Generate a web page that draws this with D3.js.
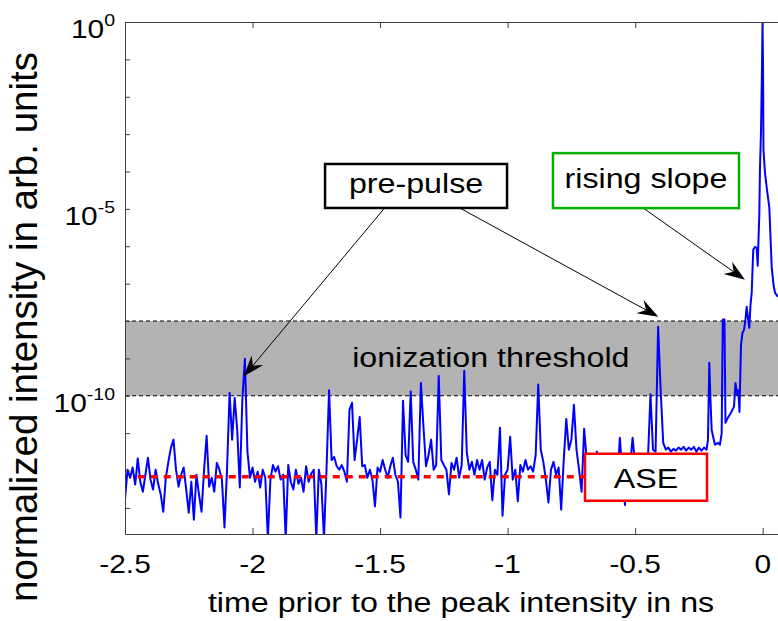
<!DOCTYPE html>
<html lang="en">
<head>
<meta charset="utf-8">
<title>pulse contrast trace</title>
<script src="https://cdn.jsdelivr.net/npm/d3@7"></script>
<style>
  body { margin: 0; background: #fff; }
  svg { display: block; font-family: "Liberation Sans", Arial, sans-serif; }
</style>
</head>
<body>
<div id="chart"></div>
<script>
// time prior to the peak, ns
var times = [
  -2.50, -2.49, -2.48, -2.47, -2.46, -2.45, -2.44, -2.43, -2.42, -2.41,
  -2.40, -2.39, -2.38, -2.37, -2.36, -2.35, -2.34, -2.33, -2.32, -2.31,
  -2.30, -2.29, -2.28, -2.27, -2.26, -2.25, -2.24, -2.23, -2.22, -2.21,
  -2.20, -2.19, -2.18, -2.17, -2.16, -2.15, -2.14, -2.13, -2.12, -2.11,
  -2.10, -2.09, -2.08, -2.07, -2.06, -2.05, -2.04, -2.03, -2.02, -2.01,
  -2.00, -1.99, -1.98, -1.97, -1.96, -1.95, -1.94, -1.93, -1.92, -1.91,
  -1.90, -1.89, -1.88, -1.87, -1.86, -1.85, -1.84, -1.83, -1.82, -1.81,
  -1.80, -1.79, -1.78, -1.77, -1.76, -1.75, -1.74, -1.73, -1.72, -1.71,
  -1.70, -1.69, -1.68, -1.67, -1.66, -1.65, -1.64, -1.63, -1.62, -1.61,
  -1.60, -1.59, -1.58, -1.57, -1.56, -1.55, -1.54, -1.53, -1.52, -1.51,
  -1.50, -1.49, -1.48, -1.47, -1.46, -1.45, -1.44, -1.43, -1.42, -1.41,
  -1.40, -1.39, -1.38, -1.37, -1.36, -1.35, -1.34, -1.33, -1.32, -1.31,
  -1.30, -1.29, -1.28, -1.27, -1.26, -1.25, -1.24, -1.23, -1.22, -1.21,
  -1.20, -1.19, -1.18, -1.17, -1.16, -1.15, -1.14, -1.13, -1.12, -1.11,
  -1.10, -1.09, -1.08, -1.07, -1.06, -1.05, -1.04, -1.03, -1.02, -1.01,
  -1.00, -0.99, -0.98, -0.97, -0.96, -0.95, -0.94, -0.93, -0.92, -0.91,
  -0.90, -0.89, -0.88, -0.87, -0.86, -0.85, -0.84, -0.83, -0.82, -0.81,
  -0.80, -0.79, -0.78, -0.77, -0.76, -0.75, -0.74, -0.73, -0.72, -0.71,
  -0.70, -0.69, -0.68, -0.67, -0.66, -0.65, -0.64, -0.63, -0.62, -0.61,
  -0.60, -0.59, -0.58, -0.57, -0.56, -0.55, -0.54, -0.53, -0.52, -0.51,
  -0.50, -0.49, -0.48, -0.47, -0.46, -0.45, -0.44, -0.43, -0.42, -0.41,
  -0.40, -0.39, -0.38, -0.37, -0.36, -0.35, -0.34, -0.33, -0.32, -0.31,
  -0.30, -0.29, -0.28, -0.27, -0.26, -0.25, -0.24, -0.23, -0.22,
  -0.2145, -0.2094, -0.2047, -0.2000, -0.1871, -0.1753, -0.1675, -0.1608, -0.1565, -0.1498,
  -0.1459, -0.1361, -0.1243, -0.1125, -0.1067, -0.1008, -0.0957, -0.0910, -0.0851, -0.0792,
  -0.0733, -0.0675, -0.0627, -0.0576, -0.0525, -0.0478, -0.0431, -0.0400, -0.0369, -0.0302,
  -0.0235, -0.0196, -0.0165, -0.0133, -0.0106, -0.0067, -0.0035, -0.0008, 0.0012, 0.0031,
  0.0090, 0.0169, 0.0259, 0.0353, 0.0424, 0.0482, 0.0600
];

// normalized intensity, arb. units
var intensity = [
  1.7e-13, 1.05e-12, 6.4e-13, 1.2e-12, 4.2e-13, 2.1e-12, 5.0e-13, 2.7e-13, 7.7e-13, 2.2e-12,
  5.7e-13, 3.1e-13, 1.05e-12, 4.4e-13, 2.3e-13, 7.9e-14, 6.4e-13, 1.7e-12, 4.1e-12, 6.7e-12,
  1.05e-12, 3.7e-13, 7.7e-13, 1.2e-12, 3.1e-13, 7.4e-14, 5.0e-13, 4.8e-14, 7.7e-13, 2.3e-13,
  7.9e-14, 1.05e-12, 8.5e-12, 3.7e-13, 6.4e-13, 2.7e-13, 1.6e-12, 1.05e-12, 5.7e-13, 3.0e-14,
  1.05e-12, 1.2e-10, 6.7e-12, 8.8e-11, 1.2e-11, 3.5e-13, 7.8e-11, 9.8e-10, 3.2e-12, 6.4e-13,
  1.2e-12, 5.0e-13, 9.3e-13, 3.5e-13, 1.05e-12, 6.4e-13, 1.5e-14, 5.7e-13, 1.4e-12, 9.3e-13,
  1.3e-12, 5.7e-13, 7.7e-13, 1.5e-14, 1.4e-12, 5.0e-13, 3.1e-13, 1.05e-12, 4.4e-13, 6.4e-13,
  2.7e-13, 1.3e-12, 5.0e-13, 8.2e-13, 1.05e-12, 1.5e-14, 1.05e-12, 4.2e-13, 1.5e-14, 1.05e-12,
  1.4e-10, 1.9e-12, 2.3e-12, 1.3e-12, 1.05e-12, 1.4e-12, 9.3e-13, 5.0e-13, 4.2e-11, 6.5e-11,
  1.9e-12, 6.7e-12, 2.7e-11, 1.3e-12, 1.4e-12, 6.4e-13, 1.05e-12, 5.7e-13, 1.1e-13, 1.2e-12,
  9.3e-13, 1.9e-12, 1.05e-12, 6.4e-13, 1.3e-12, 2.2e-12, 7.7e-13, 5.0e-13, 5.5e-14, 7.4e-11,
  2.6e-12, 1.7e-12, 1.3e-10, 1.7e-12, 1.05e-12, 5.7e-13, 2.2e-10, 1.5e-11, 1.3e-12, 2.6e-12,
  6.7e-12, 1.05e-12, 1.4e-12, 3.4e-10, 1.9e-12, 1.4e-12, 1.05e-12, 2.3e-13, 1.6e-12, 1.05e-12,
  2.2e-12, 6.4e-13, 1.4e-12, 4.7e-10, 3.0e-12, 1.05e-12, 1.7e-12, 7.7e-13, 1.9e-12, 1.05e-12,
  1.9e-12, 5.7e-13, 1.2e-12, 1.7e-12, 1.6e-13, 1.05e-12, 7.7e-13, 1.4e-11, 6.2e-14, 7.7e-13,
  1.05e-12, 8.0e-12, 5.7e-13, 1.05e-12, 1.5e-13, 1.4e-12, 9.3e-13, 1.9e-12, 1.05e-12, 1.3e-12,
  9.3e-13, 2.6e-12, 2.0e-10, 3.6e-12, 1.7e-12, 5.7e-13, 1.4e-13, 1.05e-12, 1.7e-12, 7.7e-13,
  1.2e-12, 9.0e-14, 1.9e-12, 2.4e-11, 3.6e-12, 6.7e-12, 5.7e-11, 3.6e-12, 1.05e-12, 2.7e-13,
  1.3e-11, 1.9e-12, 1.05e-12, 1.4e-12, 5.7e-13, 3.2e-12, 9.3e-13, 1.2e-12, 6.4e-13, 1.7e-12,
  7.7e-13, 1.05e-12, 1.3e-12, 5.7e-13, 7.5e-12, 7.7e-13, 1.2e-13, 1.05e-12, 1.3e-12, 7.5e-12,
  1.4e-12, 1.7e-12, 1.05e-12, 2.2e-12, 1.3e-12, 1.9e-12, 1.1e-10, 3.6e-12, 3.2e-12, 7.0e-9,
  1.4e-10, 5.5e-12, 3.6e-12, 4.1e-12, 3.2e-12, 3.8e-12, 3.4e-12, 4.1e-12, 3.6e-12, 4.3e-12,
  3.4e-12, 4.1e-12, 3.6e-12, 4.3e-12, 3.2e-12, 4.1e-12, 3.4e-12, 4.1e-12, 3.6e-12,
  6.7e-12, 7.6e-10, 7.8e-11, 1.2e-11, 4.9e-12, 5.5e-12, 4.9e-12, 1.0e-11, 1.1e-8, 1.1e-8,
  1.9e-11, 2.6e-11, 3.5e-11, 5.1e-11, 2.2e-10, 1.1e-10, 1.4e-10, 3.7e-11, 2.3e-9, 4.8e-9,
  5.8e-9, 1.1e-8, 2.4e-8, 1.2e-8, 6.6e-9, 2.7e-8, 5.7e-8, 2.3e-7, 8.0e-7, 9.6e-7,
  9.1e-7, 3.0e-7, 1.5e-6, 6.9e-6, 1.3e-4, 1.1e-3, 2.8e-2, 0.9, 9.6e-2, 3.8e-4,
  9.2e-5, 3.2e-5, 1.1e-5, 2.8e-7, 9.3e-8, 5.7e-8, 4.4e-8
];

var xDomain = [-2.5, 0.06];
var yDomain = [2e-14, 1];
var xTicks = [-2.5, -2, -1.5, -1, -0.5, 0];
var xTickLabels = ["-2.5", "-2", "-1.5", "-1", "-0.5", "0"];
var yTicks = [1e0, 1e-1, 1e-2, 1e-3, 1e-4, 1e-5, 1e-6, 1e-7, 1e-8, 1e-9, 1e-10, 1e-11, 1e-12, 1e-13];
var yLabelValues = [1e0, 1e-5, 1e-10];
var yLabelExponents = ["0", "-5", "-10"];

var threshold = [1e-10, 1e-8];      // ionization threshold band
var aseLevel = 6.8e-13;             // ASE floor
var aseSpan = [-2.45, -0.66];

var W = 778, H = 621;
var plot = {left: 125, right: 778, top: 22, bottom: 534};
var sx = 1.15;   // the reference text is drawn a bit wide

var svg = d3.select("#chart").append("svg").attr("width", W).attr("height", H);

var x = d3.scaleLinear().domain(xDomain).range([plot.left, plot.right]);
var y = d3.scaleLog().domain(yDomain).range([plot.bottom, plot.top]);

function label(parent, px, py, str, size, anchor) {
  return parent.append("text")
    .attr("transform", "translate(" + px + "," + py + ") scale(" + sx + ",1)")
    .attr("text-anchor", anchor || "middle")
    .attr("font-size", size)
    .attr("fill", "#000")
    .text(str);
}

svg.append("clipPath").attr("id", "clip").append("rect")
  .attr("x", plot.left).attr("y", plot.top)
  .attr("width", plot.right - plot.left).attr("height", plot.bottom - plot.top);

// ionization threshold band
svg.append("rect")
  .attr("x", x(xDomain[0])).attr("width", x(xDomain[1]) - x(xDomain[0]))
  .attr("y", y(threshold[1])).attr("height", y(threshold[0]) - y(threshold[1]))
  .attr("fill", "#b3b3b3");

svg.selectAll(".thr").data(threshold).enter().append("line")
  .attr("class", "thr")
  .attr("x1", x(xDomain[0])).attr("x2", x(xDomain[1]))
  .attr("y1", function(d) { return y(d); }).attr("y2", function(d) { return y(d); })
  .attr("stroke", "#000").attr("stroke-width", 1).attr("stroke-dasharray", "4,3");

label(svg, x(-1.066), y(6.0e-10), "ionization threshold", 28);

// measured trace
var data = times.map(function(t, i) { return {t: t, v: intensity[i]}; });
var line = d3.line().x(function(d) { return x(d.t); }).y(function(d) { return y(d.v); });

svg.append("path").datum(data)
  .attr("clip-path", "url(#clip)")
  .attr("d", line)
  .attr("fill", "none").attr("stroke", "#0000ff").attr("stroke-width", 2)
  .attr("stroke-linejoin", "round");

// ASE level
svg.append("line")
  .attr("x1", x(aseSpan[0])).attr("x2", x(aseSpan[1]))
  .attr("y1", y(aseLevel)).attr("y2", y(aseLevel))
  .attr("stroke", "#ff0000").attr("stroke-width", 3.3).attr("stroke-dasharray", "7,6");

// axes
var ax = svg.append("g").attr("class", "axes");
ax.append("g").attr("transform", "translate(0," + plot.bottom + ")")
  .call(d3.axisBottom(x).tickValues(xTicks).tickSize(-6).tickSizeOuter(0).tickFormat(""));
ax.append("g").attr("transform", "translate(0," + plot.top + ")")
  .call(d3.axisTop(x).tickValues(xTicks).tickSize(-6).tickSizeOuter(0).tickFormat(""));
ax.append("g").attr("transform", "translate(" + plot.left + ",0)")
  .call(d3.axisLeft(y).tickValues(yTicks).tickSize(-5).tickSizeOuter(0).tickFormat(""));
ax.selectAll("path.domain, .tick line").attr("stroke", "#404040").attr("stroke-width", 1);

xTicks.forEach(function(v, i) {
  label(svg, x(v), 573, xTickLabels[i], 26);
});

yLabelValues.forEach(function(v, i) {
  var t = label(svg, 115, y(v) + 16, "10", 26, "end").text(null);
  t.append("tspan").text("10");
  t.append("tspan").attr("dy", -12).attr("font-size", 17).text(yLabelExponents[i]);
});

label(svg, 461, 612, "time prior to the peak intensity in ns", 28);

svg.append("text")
  .attr("transform", "translate(37,327) rotate(-90)")
  .attr("text-anchor", "middle").attr("font-size", 38.5)
  .text("normalized intensity in arb. units");

// annotations
var arrows = [
  {from: [-1.482, 1.06e-5], to: [-2.034, 3.3e-10]},
  {from: [-1.188, 1.06e-5], to: [-0.409, 1.3e-8]},
  {from: [-0.469, 1.06e-5], to: [-0.0694, 1.26e-7]}
];
arrows.forEach(function(a) {
  var x0 = x(a.from[0]), y0 = y(a.from[1]), x1 = x(a.to[0]), y1 = y(a.to[1]);
  var len = Math.hypot(x1 - x0, y1 - y0), ux = (x1 - x0) / len, uy = (y1 - y0) / len;
  var L = 21, Wd = 7.5, N = 14;
  svg.append("line").attr("x1", x0).attr("y1", y0)
    .attr("x2", x1 - N * ux).attr("y2", y1 - N * uy)
    .attr("stroke", "#000").attr("stroke-width", 1);
  var pts = [
    [x1, y1],
    [x1 - L * ux - Wd * uy, y1 - L * uy + Wd * ux],
    [x1 - N * ux, y1 - N * uy],
    [x1 - L * ux + Wd * uy, y1 - L * uy - Wd * ux]
  ];
  svg.append("path").attr("d", "M" + pts.join("L") + "Z").attr("fill", "#000");
});

var boxes = [
  {text: "pre-pulse", at: [-1.359, 4.1e-5], w: 182, h: 44, dy: 7.5, color: "#000000"},
  {text: "rising slope", at: [-0.4575, 5.7e-5], w: 186, h: 55, dy: 7.8, color: "#00b000"},
  {text: "ASE", at: [-0.4575, 6.6e-13], w: 122, h: 47, dy: 10.5, color: "#ff0000"}
];
boxes.forEach(function(b) {
  var cx = x(b.at[0]), cy = y(b.at[1]);
  svg.append("rect")
    .attr("x", cx - b.w / 2).attr("y", cy - b.h / 2)
    .attr("width", b.w).attr("height", b.h)
    .attr("fill", "#fff").attr("stroke", b.color).attr("stroke-width", 2.5);
  label(svg, cx, cy + b.dy, b.text, 28);
});
</script>
</body>
</html>
